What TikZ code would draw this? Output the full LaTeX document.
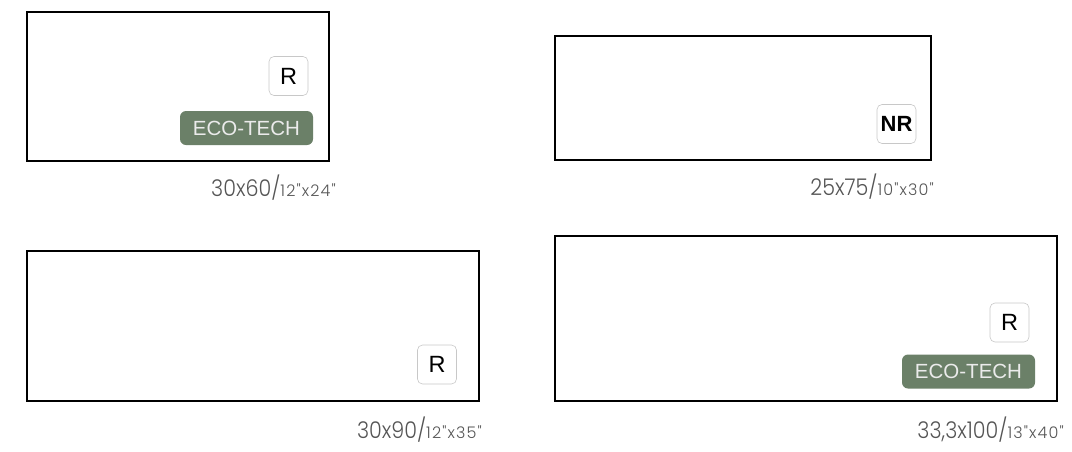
\documentclass[tikz,border=0pt]{standalone}
\usepackage{graphicx}
\usepackage{fontspec}
\setmainfont{Liberation Sans}
\newfontfamily\lblfont{Poppins}[UprightFont=* Light]
\newfontfamily\lblsmall{Poppins}[UprightFont=* Light, LetterSpace=7]
\definecolor{eco}{HTML}{6B8068}
\definecolor{lblgray}{HTML}{555555}
\definecolor{badgeborder}{HTML}{C8C8C8}
\tikzset{
  tile/.style={draw=black, line width=1.2pt, inner sep=0pt},
  badge/.style={draw=badgeborder, line width=0.6pt, rounded corners=5pt, fill=white,
    minimum width=39pt, minimum height=39pt, inner sep=0pt, font=\fontsize{23.5}{24}\selectfont},
  eco/.style={fill=eco, rounded corners=6pt, text=white!92!black, minimum width=133pt,
    minimum height=34pt, inner sep=0pt, font=\fontsize{20.5}{21}\selectfont},
  sizelbl/.style={text=lblgray, inner sep=0pt, anchor=base east},
}
\newcommand{\sz}[2]{\scalebox{0.9}[1]{\lblfont\fontsize{23}{23}\selectfont #1}{\lblsmall\fontsize{16}{16}\selectfont #2}}
\begin{document}
\begin{tikzpicture}[x=1pt,y=-1pt]
\useasboundingbox (0,0) rectangle (1072,451);
% tiles
\node[tile, minimum width=302pt, minimum height=149pt] (t1) at (178,86.5) {};
\node[tile, minimum width=376pt, minimum height=124pt] (t2) at (743,98) {};
\node[tile, minimum width=452pt, minimum height=150pt] (t3) at (253,326) {};
\node[tile, minimum width=502pt, minimum height=165pt] (t4) at (806,318.5) {};
% badges
\node[badge] (r1) at (288.5,76) {R};
\node[eco] (e1) at (246.5,128) {ECO-TECH};
\node[badge, font=\fontsize{22}{22}\selectfont\bfseries] (n2) at (896.5,124) {NR};
\node[badge] (r3) at (437,364.5) {R};
\node[badge] (r4) at (1009.5,322.5) {R};
\node[eco] (e4) at (968.5,371.5) {ECO-TECH};
% size labels
\node[sizelbl] (l1) at (336,196) {\sz{30x60/}{12"x24"}};
\node[sizelbl] (l2) at (934,195) {\sz{25x75/}{10"x30"}};
\node[sizelbl] (l3) at (482,438) {\sz{30x90/}{12"x35"}};
\node[sizelbl] (l4) at (1064,438) {\sz{33,3x100/}{13"x40"}};
\end{tikzpicture}
\end{document}
